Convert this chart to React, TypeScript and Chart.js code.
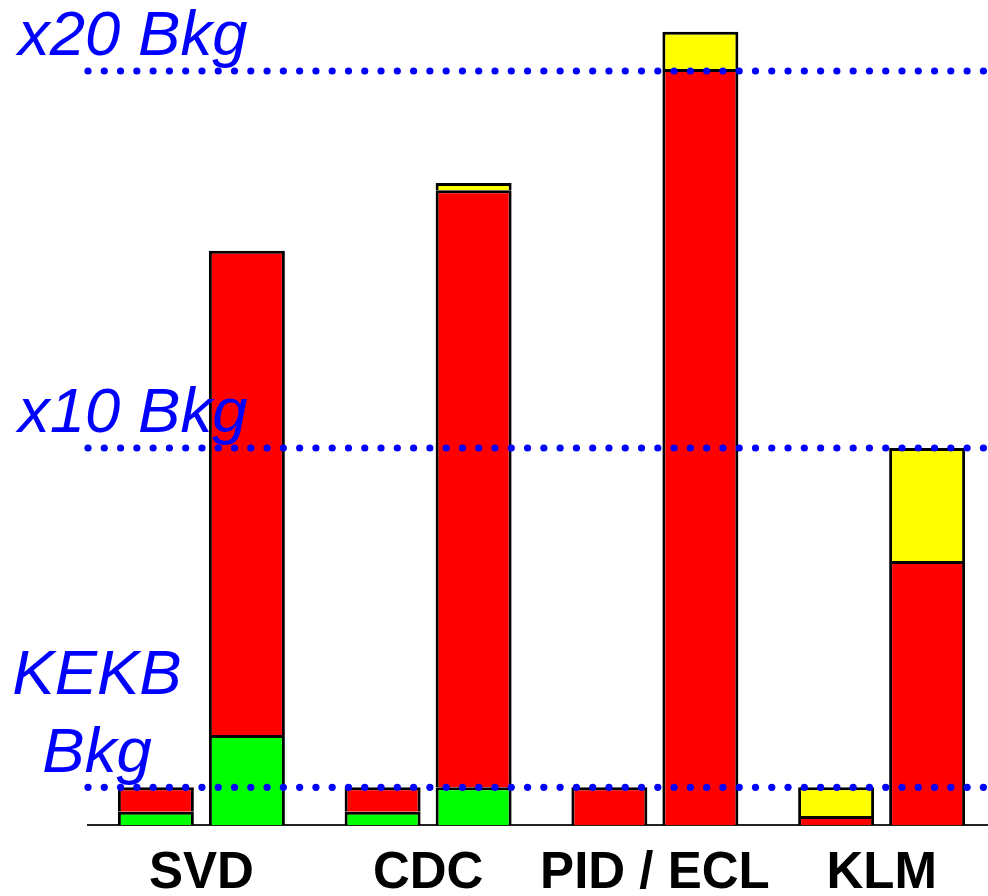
import React, { useEffect, useRef } from 'react';
import { Chart, registerables } from 'chart.js';

Chart.register(...registerables);

const categories = ['SVD', 'CDC', 'PID / ECL', 'KLM'];
// left bar of each group (current KEKB background)
const greenNow = [0.35, 0.35, null, null];
const redNow = [0.65, 0.65, 1.0, 0.24];
const yellowNow = [null, null, null, 0.76];
// right bar of each group (expected background)
const greenFuture = [2.39, 1.0, null, null];
const redFuture = [12.84, 15.84, 20.05, 7.0];
const yellowFuture = [null, 0.19, 0.99, 3.0];

const refValues = [1, 10, 20];
const refLabels = [['KEKB', 'Bkg'], ['x10 Bkg'], ['x20 Bkg']];

const BLUE = '#0000ff';
const FONT = '"Liberation Sans", Arial, Helvetica, sans-serif';

const refPlugin = {
  id: 'refLines',
  afterDatasetsDraw(chart: any) {
    const { ctx, chartArea, scales } = chart;
    const y = scales.y;
    ctx.save();
    ctx.fillStyle = BLUE;
    ctx.font = `italic 63.5px ${FONT}`;
    ctx.textBaseline = 'alphabetic';
    refValues.forEach((v, i) => {
      const py = y.getPixelForValue(v);
      const lines = refLabels[i];
      if (lines.length === 1) {
        ctx.textAlign = 'left';
        ctx.fillText(lines[0], 18, py - 16);
      } else {
        ctx.textAlign = 'center';
        lines.forEach((t, j) => {
          ctx.fillText(t, 97, py - 15 - (lines.length - 1 - j) * 78);
        });
      }
      for (let x = chartArea.left; x <= 990; x += 16.28) {
        ctx.beginPath();
        ctx.arc(x, py, 3.6, 0, Math.PI * 2);
        ctx.fill();
      }
    });
    ctx.restore();
  },
};

export default function App() {
  const ref = useRef<HTMLCanvasElement | null>(null);

  useEffect(() => {
    if (!ref.current) return;
    const mk = (label: string, data: (number | null)[], color: string, stack: string) => ({
      label,
      data,
      backgroundColor: color,
      borderColor: '#000000',
      borderWidth: 3,
      stack,
      categoryPercentage: 0.8027,
      barPercentage: 0.835,
    });
    const chart = new Chart(ref.current, {
      type: 'bar',
      data: {
        labels: categories,
        datasets: [
          mk('green now', greenNow, '#00ff00', 'now'),
          mk('red now', redNow, '#ff0000', 'now'),
          mk('yellow now', yellowNow, '#ffff00', 'now'),
          mk('green future', greenFuture, '#00ff00', 'future'),
          mk('red future', redFuture, '#ff0000', 'future'),
          mk('yellow future', yellowFuture, '#ffff00', 'future'),
        ],
      },
      options: {
        responsive: false,
        animation: false,
        devicePixelRatio: 1,
        layout: { padding: { left: 88, right: 1, top: 14.45, bottom: 0 } },
        plugins: { legend: { display: false }, tooltip: { enabled: false } },
        scales: {
          x: {
            stacked: true,
            z: 1,
            grid: { display: false, drawTicks: false },
            border: { display: true, color: '#222222', width: 2 },
            ticks: {
              color: '#000000',
              padding: 23,
              maxRotation: 0,
              autoSkip: false,
              font: { family: FONT, size: 51, weight: 'bold', lineHeight: 1 },
            },
            afterFit: (scale: any) => {
              scale.height = 71;
            },
          },
          y: {
            stacked: true,
            display: false,
            min: 0,
            max: 21.5,
          },
        },
      },
      plugins: [refPlugin],
    });
    return () => chart.destroy();
  }, []);

  return (
    <div
      style={{
        position: 'absolute',
        left: 0,
        top: 0,
        width: 988,
        height: 896,
        overflow: 'hidden',
        background: '#ffffff',
      }}
    >
      <canvas ref={ref} width={996} height={896} style={{ display: 'block' }} />
    </div>
  );
}
